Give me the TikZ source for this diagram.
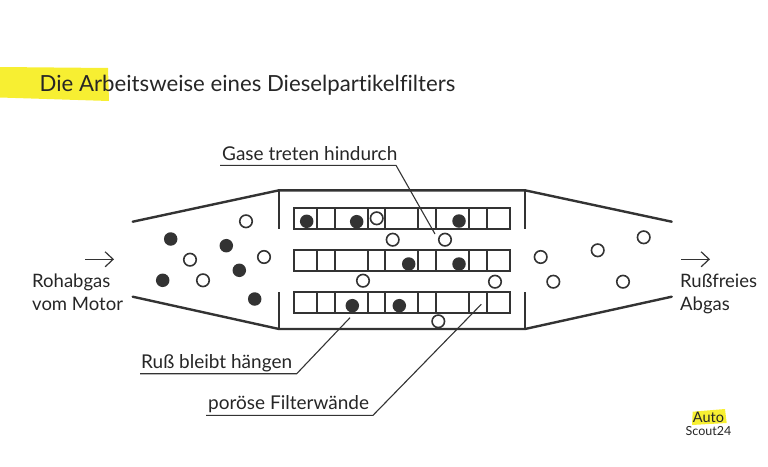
\documentclass[tikz,border=0pt]{standalone}
\usepackage{fontspec}
\setmainfont{Lato}[Ligatures=CommonOff]
\usetikzlibrary{arrows.meta}
\definecolor{inkgray}{HTML}{333333}
\definecolor{textgray}{HTML}{262626}
\definecolor{markeryellow}{HTML}{F7EF32}
\tikzset{
  wall/.style      = {line width=2.4pt, color=inkgray},
  cellwall/.style  = {line width=2.1pt, color=inkgray},
  leader/.style    = {line width=1.1pt, color=inkgray},
  soot/.style      = {circle, fill=inkgray, inner sep=0pt, minimum size=13.5pt},
  gas/.style       = {circle, draw=inkgray, fill=white, line width=1.6pt, inner sep=0pt, minimum size=12.5pt},
  flow/.style      = {-{Straight Barb[length=8pt,width=15pt]}, line width=1.2pt, color=inkgray},
  annot/.style     = {font=\fontsize{19}{23}\selectfont, text=textgray, inner sep=0pt},
  sidetext/.style  = {annot, font=\fontsize{18.5}{23}\selectfont, align=left, anchor=north west},
  logotext/.style  = {font=\fontsize{12.5}{14}\selectfont, text=textgray, inner sep=0pt},
}
\begin{document}
\begin{tikzpicture}[x=1pt,y=-1pt]
  \useasboundingbox (0,0) rectangle (768,466);

  % marker behind the title
  \fill[markeryellow] (0,67) -- (108,68) -- (109,101) -- (0,97.5) -- cycle;
  \node[font=\fontsize{22.2}{26}\selectfont, text=textgray, inner sep=0pt, anchor=base west] (title) at (39.5,91)
       {Die Arbeitsweise eines Dieselpartikelfilters};

  % housing
  \draw[wall,line cap=round] (132.7,221.7) -- (279,190.3) -- (525,190.3) -- (671.7,221.7);
  \draw[wall,line cap=round] (132.7,296.7) -- (279,329) -- (525,329) -- (671.7,296.7);
  \draw[wall] (279,190.3) -- (279,229);
  \draw[wall] (279,292) -- (279,329);
  \draw[wall] (525,190.3) -- (525,229);
  \draw[wall] (525,292) -- (525,329);

  % the three filter channels
  \foreach \ytop in {208,250,292} {
    \draw[cellwall] (294,\ytop) rectangle (510,\ytop+21);
    \foreach \xcell in {316.7,334.7,368,385.3,418,436,469.3,487.3}
      \draw[cellwall] (\xcell,\ytop) -- (\xcell,\ytop+21);
  }

  % soot particles
  \foreach \px/\py/\pname in {170.7/239/sa,226.3/245.7/sb,239.3/270.3/sc,162.7/280.3/sd,254.7/299/se,
                              306.7/221.3/sf,356.7/221.7/sg,459/221/sh,408.7/264/si,459/264/sj,
                              352.3/305.7/sk,399.3/305.7/sl}
    \node[soot] (\pname) at (\px,\py) {};

  % clean gas
  \foreach \px/\py/\pname in {246/221.3/ga,190/259.7/gb,264/257/gc,203/280.3/gd,
                              376.7/218.3/ge,392.7/239.7/gf,445/239.7/gg,363/280.7/gh,495/281.7/gi,438.3/321.3/gj,
                              540.7/257/gk,597.7/250.3/gl,643.7/237.3/gm,553.3/281.7/gn,623/281.7/go}
    \node[gas] (\pname) at (\px,\py) {};

  % flow direction
  \coordinate (inA) at (85,259.3);
  \coordinate (inB) at (114,259.3);
  \coordinate (outA) at (681.3,259.3);
  \coordinate (outB) at (710,259.3);
  \draw[flow] (inA) -- (inB);
  \draw[flow] (outA) -- (outB);
  \node[sidetext] (rawgas) at (32,273.5) {Rohabgas\\vom Motor};
  \node[sidetext] (cleangas) at (680,273.5) {Rußfreies\\Abgas};

  % labels with their leaders
  \node[annot,anchor=base west] (passlabel) at (222,160) {Gase treten hindurch};
  \node[annot,anchor=base west] (sootlabel) at (141,368.3) {Ruß bleibt hängen};
  \node[annot,anchor=base west] (walllabel) at (208,409) {poröse Filterwände};
  \coordinate (passL) at (220,165.3);
  \coordinate (passR) at (396,165.3);
  \coordinate (passEnd) at (435,234);
  \coordinate (sootL) at (140,373.7);
  \coordinate (sootR) at (296.7,373.7);
  \coordinate (sootEnd) at (350,317.7);
  \coordinate (wallL) at (206,415.3);
  \coordinate (wallR) at (373,415.3);
  \coordinate (wallEnd) at (481.3,304.3);
  \draw[leader] (passL) -- (passR) -- (passEnd);
  \draw[leader] (sootL) -- (sootR) -- (sootEnd);
  \draw[leader] (wallL) -- (wallR) -- (wallEnd);

  % logo
  \fill[markeryellow] (692.7,411.7) -- (725,409) -- (726.7,423) -- (692,425) -- cycle;
  \node[logotext,font=\fontsize{14.5}{16}\selectfont,anchor=base] (logoA) at (708.5,422) {Auto};
  \node[logotext,anchor=base] (logoB) at (708.5,435.7) {Scout24};
\end{tikzpicture}
\end{document}
